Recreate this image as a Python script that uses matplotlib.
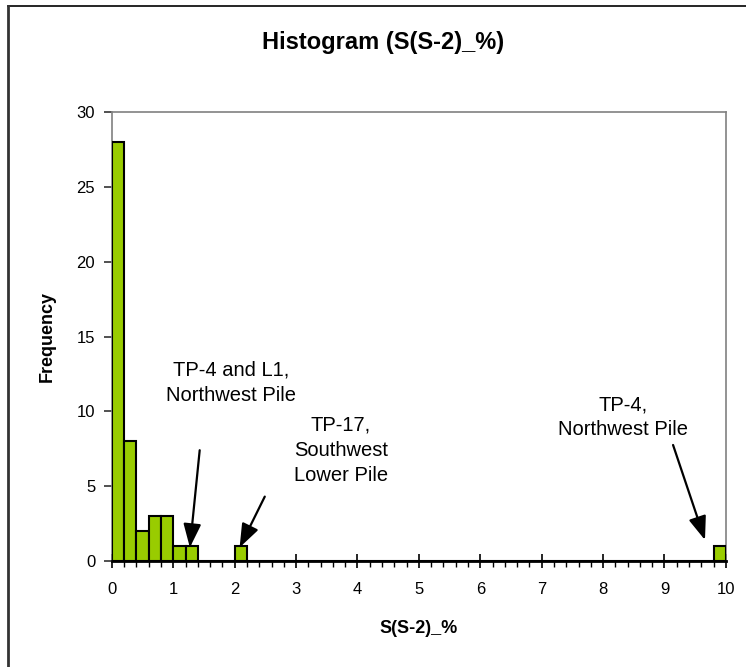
import numpy as np
import matplotlib
matplotlib.use("Agg")
import matplotlib.pyplot as plt
from matplotlib.lines import Line2D
from matplotlib.ticker import MultipleLocator

plt.rcParams['font.family'] = ['Liberation Sans', 'DejaVu Sans']

# histogram bins of width 0.2 (left edges 0.0 ... 9.8)
bin_width = 0.2
counts = [28, 8, 2, 3, 3, 1, 1, 0, 0, 0,
          1, 0, 0, 0, 0, 0, 0, 0, 0, 0,
          0, 0, 0, 0, 0, 0, 0, 0, 0, 0,
          0, 0, 0, 0, 0, 0, 0, 0, 0, 0,
          0, 0, 0, 0, 0, 0, 0, 0, 0, 1]
bin_left = np.arange(len(counts)) * bin_width
x_ticks = [0, 1, 2, 3, 4, 5, 6, 7, 8, 9, 10]
y_ticks = [0, 5, 10, 15, 20, 25, 30]

# annotations: text, text position, arrow start, arrow tip
notes = [
    ("TP-4 and L1,\nNorthwest Pile", (1.94, 11.9), (1.43, 7.4), (1.27, 0.9)),
    ("TP-17,\nSouthwest\nLower Pile", (3.73, 7.4), (2.49, 4.3), (2.08, 0.9)),
    ("TP-4,\nNorthwest Pile", (8.32, 9.6), (9.14, 7.75), (9.66, 1.4)),
]

fig = plt.figure(figsize=(7.46, 6.67), dpi=100)
ax = fig.add_axes([0.150, 0.159, 0.823, 0.673])

ax.bar(bin_left, counts, width=bin_width, align='edge',
       color='#99CC00', edgecolor='black', linewidth=1.5, zorder=3)

ax.set_xlim(0, 10)
ax.set_ylim(0, 30)
ax.set_xticks(x_ticks)
ax.set_yticks(y_ticks)
ax.xaxis.set_minor_locator(MultipleLocator(0.2))

ax.tick_params(axis='x', which='major', direction='inout', length=10,
               width=1.2, colors='black', labelsize=12, pad=10)
ax.tick_params(axis='x', which='minor', direction='out', length=4,
               width=1, colors='black')
ax.tick_params(axis='y', direction='out', length=6, width=1.2,
               colors='#333333', labelcolor='black', labelsize=12, pad=6)

for side in ['top', 'right', 'left']:
    ax.spines[side].set_color('#808080')
    ax.spines[side].set_linewidth(1.2)
ax.spines['bottom'].set_color('black')
ax.spines['bottom'].set_linewidth(2)

ax.set_xlabel('S(S-2)_%', fontsize=13, fontweight='bold')
ax.set_ylabel('Frequency', fontsize=13, fontweight='bold')
ax.xaxis.set_label_coords(0.5, -0.131)
ax.yaxis.set_label_coords(-0.091, 0.5)

fig.text(0.513, 0.937, 'Histogram (S(S-2)_%)', fontsize=17,
         fontweight='bold', ha='center', va='center')

for txt, tpos, start, tip in notes:
    ax.text(tpos[0], tpos[1], txt, fontsize=14.5, ha='center', va='center',
            linespacing=1.4)
    ax.annotate('', xy=tip, xytext=start,
                arrowprops=dict(arrowstyle='-|>,head_length=0.8,head_width=0.3',
                                color='black', lw=1.6, mutation_scale=18,
                                shrinkA=0, shrinkB=0))

# chart border (only top and left edges are visible in the image)
fig.add_artist(Line2D([8 / 746, 1], [1 - 6 / 667, 1 - 6 / 667],
                      transform=fig.transFigure, color='black', lw=1.2))
fig.add_artist(Line2D([8 / 746, 8 / 746], [0, 1 - 6 / 667],
                      transform=fig.transFigure, color='#333333', lw=2))

fig.savefig('out.png', dpi=100)
